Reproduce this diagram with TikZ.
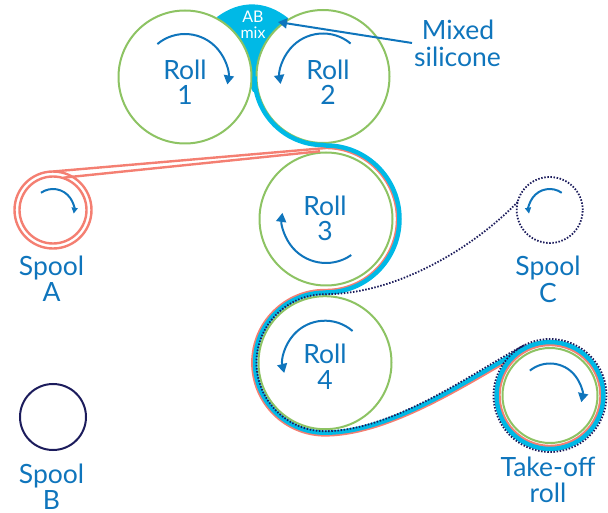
\documentclass[tikz,border=0pt]{standalone}
\usepackage{fontspec}
\setmainfont{Lato}
\usetikzlibrary{calc,arrows.meta}
\definecolor{rollgreen}{HTML}{8DC363}
\definecolor{txtblue}{HTML}{0F75BC}
\definecolor{mixcyan}{HTML}{00B9E6}
\definecolor{salmon}{HTML}{F47F72}
\definecolor{navyd}{HTML}{1C1C5C}
\tikzset{
  rollc/.style={circle,draw=rollgreen,line width=2pt,fill=white,minimum size=#1,inner sep=0pt},
  lab/.style={text=txtblue,font=\fontsize{26.5}{26.5}\selectfont,inner sep=0pt,anchor=center},
  abl/.style={text=white,font=\fontsize{16}{16}\selectfont,inner sep=0pt},
  sense/.style={draw=txtblue,line width=2pt,-{Triangle[width=10pt,length=9pt]}},
  sensesm/.style={draw=txtblue,line width=2pt,-{Triangle[width=6pt,length=6pt]}},
  cyanband/.style={draw=mixcyan,line width=4.5pt},
  pinkband/.style={draw=salmon,line width=2.4pt},
  dotband/.style={draw=navyd,line width=1.8pt,dash pattern=on 1.5pt off 1.6pt},
}
\begin{document}
\begin{tikzpicture}[x=1pt,y=1pt]
\useasboundingbox (0,0) rectangle (608,512);
% AB mix blob
\fill[mixcyan] (217,495) .. controls (240,512) and (265,512) .. (288,494) -- (256,420) -- (253,420) -- cycle;
% rolls
\node[rollc=133pt] (R1) at (185,435) {};
\node[rollc=133pt] (R2) at (323,435.5) {};
\node[rollc=133pt] (R3) at (326,293) {};
\node[rollc=133pt] (R4) at (325,149.3) {};
\node[rollc=95pt] (TO) at (550,116.5) {};
% spools
\node[circle,draw=salmon,line width=2.4pt,minimum size=77pt,inner sep=0pt] (SAo) at (53,302) {};
\node[circle,draw=salmon,line width=2.4pt,minimum size=67pt,inner sep=0pt] (SAi) at (53,302) {};
\node[circle,draw=navyd,line width=2pt,minimum size=66pt,inner sep=0pt] (SB) at (53,95) {};
\node[circle,dotband,minimum size=66pt,inner sep=0pt] (SC) at (549.7,302) {};
% material bands
\coordinate (Tc) at ($(TO)+(117:53.5)$);
\coordinate (Tp) at ($(TO)+(117:50.5)$);
\draw[pinkband] ($(SAo)+(90:38.5)$) -- ($(R3)+(90:71)$) arc[start angle=90,end angle=-90,radius=71]
  -- ($(R4)+(90:72.7)$) arc[start angle=90,end angle=270,radius=72.7]
  .. controls +(70,0) and ($(Tp)+(-45,-23)$) .. (Tp)
  arc[start angle=117,end angle=-243,radius=50.5];
\draw[pinkband] ($(SAi)+(72:34)$) -- ($(R3)+(95:68)$);
\draw[cyanband] ($(R2)+(180:68.5)$) arc[start angle=180,end angle=270,radius=68.5]
  -- ($(R3)+(90:73.5)$) arc[start angle=90,end angle=-90,radius=73.5]
  -- ($(R4)+(90:70)$) arc[start angle=90,end angle=270,radius=70]
  .. controls +(70,0) and ($(Tc)+(-45,-23)$) .. (Tc)
  arc[start angle=117,end angle=-243,radius=53.5];
\coordinate (Td) at ($(TO)+(117:56.5)$);
\coordinate (Sd) at ($(SC)+(166:33)$);
\draw[dotband] (Sd) .. controls ($(Sd)+(-47,-48)$) and ($(R4)+(70,68.5)$) .. ($(R4)+(90:68.5)$)
  arc[start angle=90,end angle=270,radius=68.5]
  .. controls +(70,0) and ($(Td)+(-45,-23)$) .. (Td)
  arc[start angle=117,end angle=-243,radius=56.5];
% direction arrows
\draw[sense] ($(R1)+(130:43)$) arc[start angle=130,end angle=-10,radius=43];
\draw[sense] ($(R2)+(50:43)$) arc[start angle=50,end angle=190,radius=43];
\draw[sense] ($(R3)+(-55:44)$) arc[start angle=-55,end angle=-188,radius=44];
\draw[sense] ($(R4)+(49:42)$) arc[start angle=49,end angle=194,radius=42];
\draw[sense] ($(TO)+(129:32)$) arc[start angle=129,end angle=-12,radius=32];
\draw[sensesm] ($(SAi)+(125:21)$) arc[start angle=125,end angle=-10,radius=21];
\draw[sensesm] ($(SC)+(55:21)$) arc[start angle=55,end angle=190,radius=21];
% labels
\node[lab] (t1a) at (185,442) {Roll};
\node[lab] (t1b) at (185,417) {1};
\node[lab] (t2a) at (328,442) {Roll};
\node[lab] (t2b) at (328,417) {2};
\node[lab] (t3a) at (325,306) {Roll};
\node[lab] (t3b) at (325,281) {3};
\node[lab] (t4a) at (325,158) {Roll};
\node[lab] (t4b) at (325,132) {4};
\node[lab] (sa1) at (51.5,244) {Spool};
\node[lab] (sa2) at (51.5,219.5) {A};
\node[lab] (sb1) at (51.5,36) {Spool};
\node[lab] (sb2) at (51.5,12) {B};
\node[lab] (sc1) at (548,243.5) {Spool};
\node[lab] (sc2) at (548,219) {C};
\node[lab] (to1) at (548,45) {Take-off};
\node[lab] (to2) at (548,19) {roll};
\node[lab] (mx1) at (458,482) {Mixed};
\node[lab] (mx2) at (457.5,455) {silicone};
\node[abl] (ab1) at (253,495) {AB};
\node[abl] (ab2) at (253,479) {mix};
% mixed silicone pointer
\coordinate (mxs) at (412,469);
\coordinate (mxe) at (278,490);
\draw[sense] (mxs) -- (mxe);
\end{tikzpicture}
\end{document}
